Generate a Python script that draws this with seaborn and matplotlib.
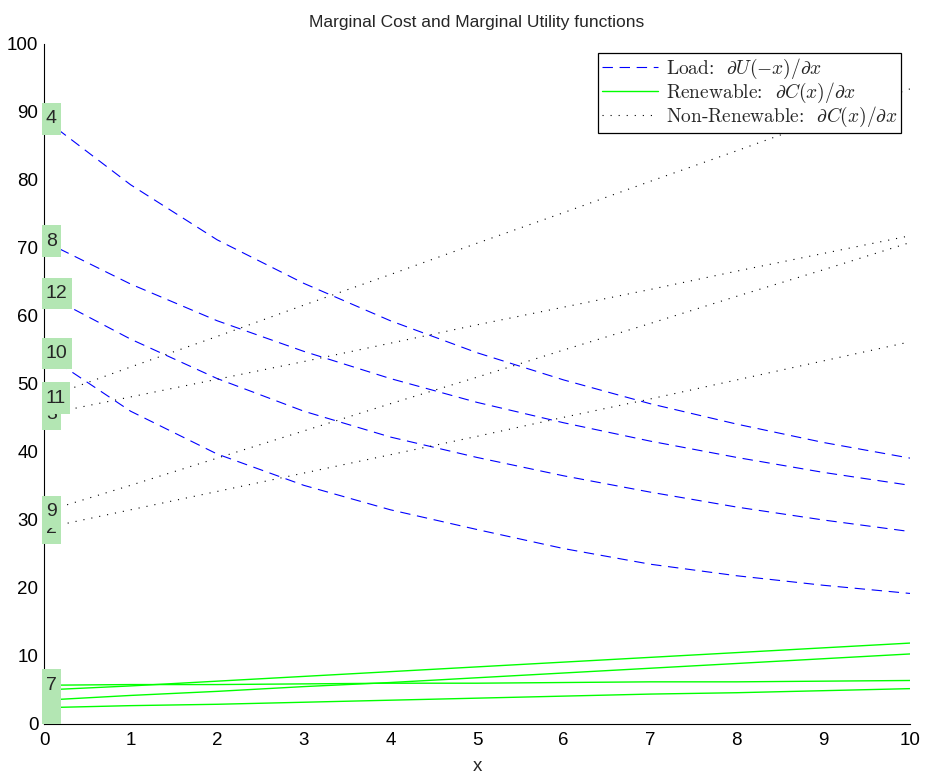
import matplotlib
matplotlib.use('Agg')
import pandas as pd
import matplotlib.pyplot as plt
from matplotlib.path import Path
import seaborn as sns

# x grid and curve values
x = [0, 1, 2, 3, 4, 5, 6, 7, 8, 9, 10]

# Load: dU(-x)/dx  (blue dashed)
load_4 = [89.0, 79.3, 71.2, 64.8, 59.3, 54.6, 50.6, 47.1, 44.1, 41.4, 39.1]
load_8 = [71.0, 64.7, 59.3, 54.8, 50.8, 47.3, 44.3, 41.6, 39.2, 37.0, 35.1]
load_12 = [63.3, 56.6, 50.8, 46.0, 42.2, 39.2, 36.5, 34.1, 31.9, 30.0, 28.3]
load_10 = [54.5, 46.0, 39.7, 35.1, 31.5, 28.6, 25.8, 23.5, 21.8, 20.4, 19.2]

# Renewable: dC(x)/dx  (green solid)
ren_7 = [5.7, 5.8, 5.8, 5.9, 6.0, 6.0, 6.1, 6.2, 6.2, 6.3, 6.4]
ren_6 = [5.0, 5.6, 6.3, 7.0, 7.7, 8.4, 9.1, 9.8, 10.5, 11.2, 11.9]
ren_5 = [3.5, 4.2, 4.8, 5.5, 6.1, 6.8, 7.5, 8.2, 8.9, 9.6, 10.3]
ren_1 = [2.4, 2.7, 2.9, 3.2, 3.5, 3.8, 4.1, 4.4, 4.6, 4.9, 5.2]

# Non-Renewable: dC(x)/dx  (black dotted)
nonren_11 = [47.9, 52.5, 57.0, 61.6, 66.1, 70.7, 75.2, 79.8, 84.3, 88.9, 93.4]
nonren_3 = [45.5, 48.1, 50.7, 53.3, 56.0, 58.7, 61.3, 63.9, 66.6, 69.2, 71.8]
nonren_9 = [31.2, 35.1, 39.1, 43.1, 47.1, 51.0, 55.0, 58.9, 62.9, 66.8, 70.8]
nonren_2 = [28.8, 31.5, 34.2, 36.9, 39.6, 42.3, 45.1, 47.8, 50.6, 53.4, 56.2]

curves = [
    (4, 'load', load_4), (8, 'load', load_8), (12, 'load', load_12), (10, 'load', load_10),
    (7, 'ren', ren_7), (6, 'ren', ren_6), (5, 'ren', ren_5), (1, 'ren', ren_1),
    (11, 'nonren', nonren_11), (3, 'nonren', nonren_3), (9, 'nonren', nonren_9), (2, 'nonren', nonren_2),
]

rows = []
for num, kind, vals in curves:
    for xi, v in zip(x, vals):
        rows.append({'curve': num, 'kind': kind, 'x': xi, 'value': v})
df = pd.DataFrame(rows)

sns.set_theme(style='white')
plt.rcParams['font.family'] = ['Liberation Sans', 'DejaVu Sans']
plt.rcParams['mathtext.fontset'] = 'cm'
plt.rcParams['lines.scale_dashes'] = False

styles = {
    'load': dict(color='#0000ff', linestyle=(0, (7.5, 4.8)), linewidth=0.8),
    'ren': dict(color='#00ff00', linestyle='-', linewidth=1.0),
    'nonren': dict(color='black', linestyle=(0, (0.8, 5.0)), linewidth=0.8),
}
legend_labels = {
    'load': r'Load:  $\partial U(-x)/\partial x$',
    'ren': r'Renewable:  $\partial C(x)/\partial x$',
    'nonren': r'Non-Renewable:  $\partial C(x)/\partial x$',
}


# taller-than-wide padding for the number tags (like matlab text boxes)
def tag_box(x0, y0, width, height, mutation_size):
    ph = 0.21 * mutation_size
    pv = 0.38 * mutation_size
    x0, y0 = x0 - ph, y0 - pv
    x1, y1 = x0 + width + 2 * ph, y0 + height + 2 * pv
    return Path([(x0, y0), (x1, y0), (x1, y1), (x0, y1), (x0, y0)], closed=True)


fig = plt.figure(figsize=(9.26, 7.75), dpi=100)
ax = fig.add_axes([44 / 926, 51 / 775, 866 / 926, 680 / 775])

handles = {}
for num, kind, vals in curves:
    sub = df[df['curve'] == num]
    sns.lineplot(data=sub, x='x', y='value', ax=ax, legend=False, **styles[kind])
    handles.setdefault(kind, ax.lines[-1])

# curve number tags at x = 0
for num, kind, vals in sorted(curves, key=lambda c: c[0]):
    ax.text(0.02, vals[0], str(num), ha='left', va='center', fontsize=14, zorder=5,
            bbox=dict(boxstyle=tag_box, fc='#b3e6b3', ec='none'))

ax.set_xlim(0, 10)
ax.set_ylim(0, 100)
ax.set_xticks(range(0, 11))
ax.set_yticks(range(0, 101, 10))
sns.despine(ax=ax)
for sp in ['left', 'bottom']:
    ax.spines[sp].set_color('black')
    ax.spines[sp].set_linewidth(0.8)
ax.tick_params(axis='both', direction='in', length=5.5, width=0.8, labelsize=13.5, colors='black')
ax.tick_params(axis='x', pad=6)
ax.tick_params(axis='y', pad=4)
ax.set_xlabel('x', fontsize=13.5, labelpad=6)
ax.set_ylabel('')
ax.set_title('Marginal Cost and Marginal Utility functions', fontsize=12.5, pad=12)

leg = ax.legend([handles[k] for k in ['load', 'ren', 'nonren']],
                [legend_labels[k] for k in ['load', 'ren', 'nonren']],
                loc='upper right', prop={'family': 'cmr10', 'size': 14},
                frameon=True, fancybox=False, framealpha=1, edgecolor='black',
                handlelength=2.9, handletextpad=0.4, labelspacing=0.0,
                borderpad=0.2, borderaxespad=0.45)
leg.get_frame().set_linewidth(0.9)

fig.savefig('out.png', dpi=100)
